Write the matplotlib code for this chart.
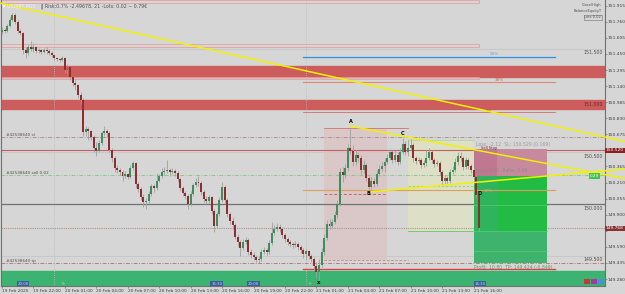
import numpy as np
import matplotlib.pyplot as plt
from matplotlib.patches import Rectangle

# USDJPY M15 candles, 19 Feb 19:00 -> 21 Feb 16:30
first_open = 151.66
closes = [151.68, 151.67, 151.72, 151.78, 151.83, 151.76, 151.67, 151.65, 151.49, 151.46,
          151.52, 151.50, 151.52, 151.48, 151.49, 151.47, 151.49, 151.48, 151.46, 151.44,
          151.41, 151.40, 151.39, 151.41, 151.30, 151.32, 151.23, 151.17, 151.15, 151.05,
          151.01, 150.70, 150.73, 150.71, 150.65, 150.54, 150.51, 150.59, 150.69, 150.71,
          150.69, 150.52, 150.45, 150.35, 150.33, 150.31, 150.27, 150.29, 150.26, 150.35,
          150.40, 150.20, 150.15, 150.07, 150.02, 150.03, 150.10, 150.18, 150.16, 150.23,
          150.27, 150.31, 150.32, 150.33, 150.31, 150.32, 150.30, 150.24, 150.16, 150.11,
          150.08, 150.00, 150.10, 150.19, 150.22, 150.21, 150.12, 150.05, 150.03, 150.07,
          149.94, 149.79, 149.91, 150.04, 150.17, 150.04, 149.91, 149.84, 149.80, 149.69,
          149.64, 149.58, 149.64, 149.66, 149.54, 149.51, 149.49, 149.46, 149.47, 149.54,
          149.56, 149.54, 149.63, 149.72, 149.76, 149.78, 149.76, 149.70, 149.67, 149.64,
          149.62, 149.61, 149.62, 149.59, 149.56, 149.52, 149.55, 149.50, 149.47, 149.41,
          149.35, 149.42, 149.54, 149.68, 149.81, 149.79, 149.83, 149.90, 150.00, 150.31,
          150.28, 150.35, 150.54, 150.51, 150.41, 150.48, 150.45, 150.33, 150.38, 150.25,
          150.17, 150.23, 150.20, 150.29, 150.34, 150.37, 150.41, 150.45, 150.50, 150.43,
          150.48, 150.41, 150.50, 150.58, 150.50, 150.54, 150.57, 150.45, 150.42, 150.43,
          150.38, 150.40, 150.45, 150.50, 150.43, 150.39, 150.40, 150.31, 150.23, 150.25,
          150.23, 150.31, 150.33, 150.41, 150.47, 150.45, 150.36, 150.43, 150.37, 150.33,
          150.26, 150.09, 149.77]
highs = [151.71, 151.70, 151.74, 151.81, 151.84, 151.84, 151.78, 151.69, 151.66, 151.52,
         151.55, 151.57, 151.56, 151.53, 151.51, 151.50, 151.51, 151.52, 151.50, 151.48,
         151.42, 151.42, 151.41, 151.43, 151.42, 151.35, 151.33, 151.24, 151.21, 151.16,
         151.08, 151.03, 150.76, 150.75, 150.72, 150.67, 150.60, 150.62, 150.71, 150.76,
         150.73, 150.71, 150.54, 150.47, 150.38, 150.35, 150.33, 150.32, 150.30, 150.38,
         150.42, 150.41, 150.22, 150.17, 150.10, 150.06, 150.13, 150.20, 150.20, 150.30,
         150.29, 150.35, 150.36, 150.43, 150.35, 150.35, 150.34, 150.32, 150.25, 150.18,
         150.13, 150.10, 150.13, 150.21, 150.25, 150.27, 150.23, 150.14, 150.08, 150.09,
         150.08, 149.96, 149.93, 150.07, 150.22, 150.19, 150.06, 149.93, 149.88, 149.82,
         149.71, 149.66, 149.67, 149.69, 149.68, 149.57, 149.54, 149.51, 149.50, 149.57,
         149.59, 149.58, 149.66, 149.83, 149.80, 149.82, 149.81, 149.78, 149.72, 149.69,
         149.66, 149.64, 149.65, 149.64, 149.61, 149.58, 149.57, 149.56, 149.52, 149.49,
         149.44, 149.47, 149.58, 149.71, 149.85, 149.86, 149.86, 149.94, 150.04, 150.35,
         150.36, 150.39, 150.58, 150.74, 150.57, 150.52, 150.50, 150.48, 150.43, 150.40,
         150.27, 150.26, 150.25, 150.33, 150.38, 150.41, 150.45, 150.49, 150.53, 150.52,
         150.52, 150.50, 150.54, 150.64, 150.61, 150.62, 150.63, 150.59, 150.47, 150.46,
         150.45, 150.43, 150.52, 150.54, 150.52, 150.45, 150.43, 150.42, 150.33, 150.28,
         150.27, 150.34, 150.37, 150.45, 150.50, 150.50, 150.47, 150.46, 150.45, 150.39,
         150.35, 150.28, 150.11]
lows = [151.64, 151.65, 151.66, 151.71, 151.77, 151.74, 151.65, 151.63, 151.45, 151.41,
        151.44, 151.48, 151.47, 151.46, 151.46, 151.45, 151.46, 151.45, 151.44, 151.42,
        151.39, 151.38, 151.37, 151.38, 151.27, 151.26, 151.20, 151.14, 151.10, 151.03,
        150.97, 150.66, 150.66, 150.62, 150.62, 150.50, 150.47, 150.50, 150.57, 150.66,
        150.65, 150.50, 150.41, 150.31, 150.30, 150.28, 150.23, 150.25, 150.24, 150.25,
        150.33, 150.16, 150.12, 150.04, 149.97, 149.96, 150.01, 150.08, 150.12, 150.14,
        150.22, 150.25, 150.28, 150.30, 150.27, 150.29, 150.27, 150.22, 150.13, 150.08,
        150.05, 149.96, 149.98, 150.08, 150.17, 150.18, 150.09, 150.02, 150.00, 150.01,
        149.91, 149.73, 149.77, 149.89, 150.02, 150.01, 149.88, 149.81, 149.76, 149.67,
        149.60, 149.50, 149.56, 149.62, 149.51, 149.48, 149.46, 149.44, 149.43, 149.45,
        149.52, 149.51, 149.52, 149.61, 149.70, 149.74, 149.73, 149.68, 149.64, 149.61,
        149.59, 149.58, 149.59, 149.56, 149.53, 149.48, 149.46, 149.47, 149.44, 149.37,
        149.29, 149.24, 149.40, 149.51, 149.66, 149.76, 149.77, 149.81, 149.87, 149.98,
        150.22, 150.25, 150.32, 150.49, 150.37, 150.38, 150.41, 150.29, 150.30, 150.23,
        150.13, 150.15, 150.17, 150.18, 150.27, 150.32, 150.31, 150.39, 150.43, 150.40,
        150.41, 150.38, 150.39, 150.49, 150.48, 150.47, 150.52, 150.41, 150.39, 150.40,
        150.35, 150.36, 150.37, 150.43, 150.40, 150.36, 150.37, 150.28, 150.19, 150.20,
        150.20, 150.21, 150.29, 150.31, 150.38, 150.42, 150.33, 150.34, 150.34, 150.30,
        150.23, 150.06, 149.74]
opens = [first_open] + closes[:-1]

time_labels = ["19 Feb 2025", "19 Feb 22:00", "20 Feb 01:00", "20 Feb 04:00",
               "20 Feb 07:00", "20 Feb 10:00", "20 Feb 13:00", "20 Feb 16:00",
               "20 Feb 19:00", "20 Feb 22:00", "21 Feb 01:00", "21 Feb 04:00",
               "21 Feb 07:00", "21 Feb 10:00", "21 Feb 13:00", "21 Feb 16:00"]
price_ticks = [149.280, 149.435, 149.590, 149.745, 149.900, 150.055, 150.210, 150.365,
               150.520, 150.675, 150.830, 150.985, 151.140, 151.295, 151.450, 151.605,
               151.760, 151.915]
day_breaks = [20, 116]

# trade / analysis levels
sl_price = 150.529
entry_price = 150.27
tp_price = 149.43
sl_dash = 150.65
sell_line = 150.28
bid_price = 149.77
red_zones = [(151.23, 151.33), (150.92, 151.01)]
demand_zone = (149.213, 149.36)

BG = '#d6d6d6'
BULL = '#3f8f5e'
BEAR = '#8e2f2f'
WICK = '#a0a0a0'
TXT = '#505050'

fig = plt.figure(figsize=(6.25, 2.94), dpi=100, facecolor=BG)
ax = fig.add_axes([1 / 625, 8 / 294, 603.5 / 625, 286 / 294])
ax.set_facecolor(BG)
x0, x1 = -0.38, 229.96
y0, y1 = 149.213, 151.97
ax.set_xlim(x0, x1)
ax.set_ylim(y0, y1)

# zones
for lo, hi in red_zones:
    ax.axhspan(lo, hi, color='#cd5c5c', zorder=1)
ax.axhspan(demand_zone[0], demand_zone[1], color='#3cb371', zorder=1)

# thin pink rectangles (old zones)
for lo, hi in [(151.94, 151.97), (151.52, 151.55), (151.21, 151.23)]:
    ax.add_patch(Rectangle((x0, lo), 182 - x0, hi - lo, fill=False,
                           ec='#e6a0a0', lw=0.6, zorder=1.5))

# round number levels
for lv in [151.5, 150.5, 149.5]:
    ax.axhline(lv, color='#c8c8c8', lw=0.8, zorder=1.2)
ax.axhline(150.0, color='#727272', lw=0.9, zorder=1.6)
for lv, s in [(151.5, '151.500'), (151.0, '151.000'), (150.5, '150.500'),
              (150.0, '150.000'), (149.5, '149.500')]:
    ax.text(x1 - 0.5, lv - 0.012, s, ha='right', va='top', fontsize=3.4,
            color='#7a2020' if s == '151.000' else TXT, zorder=8)

# period separators
for d in day_breaks:
    ax.axvline(d, color='#bcbcbc', lw=0.6, ls=(0, (1, 1.5)), zorder=1.1)

# fib lines
ax.plot([115, 211], [151.425, 151.425], color='#2f8fe0', lw=0.9, zorder=2)
ax.plot([115, 211], [151.18, 151.18], color='#e08a70', lw=0.8, zorder=2)
ax.plot([115, 211], [150.89, 150.89], color='#d07070', lw=0.6, zorder=2)
ax.plot([115, 211], [150.14, 150.14], color='#d9a060', lw=0.8, zorder=2)
ax.text(186, 151.435, '50%', fontsize=3, color='#5aa0d8', zorder=8)
ax.text(188, 151.19, '38%', fontsize=3, color='#d07060', zorder=8)
ax.text(185, 150.90, '61', fontsize=3, color='#c06060', zorder=8)
ax.text(184, 150.12, '50%', fontsize=3, color='#d9a060', zorder=8)

# trade lines
ax.axhline(sl_dash, color='#b09090', lw=0.7, ls=(0, (4, 1.5, 1, 1.5)), zorder=1.7)
ax.axhline(sl_price - 0.005, color='#c46060', lw=0.8, zorder=1.7)
ax.axhline(sell_line, color='#8cc88c', lw=0.7, ls=(0, (4, 1.5, 1, 1.5)), zorder=1.7)
ax.axhline(bid_price, color='#b09090', lw=0.8, ls=(0, (1, 1)), zorder=1.7)
ax.axhline(tp_price, color='#b08080', lw=0.7, ls=(0, (4, 1.5, 1, 1.5)), zorder=1.7)
ax.plot([115, 211], [149.38, 149.38], color='#e04040', lw=1.0, zorder=2)
ax.text(1.5, sl_dash + 0.01, '#42538640 sl', fontsize=3, color=TXT, zorder=8)
ax.text(1.5, sell_line + 0.01, '#42538640 sell 0.02', fontsize=3, color=TXT, zorder=8)
ax.text(1.5, tp_price + 0.01, '#42538640 tp', fontsize=3, color=TXT, zorder=8)

# pattern boxes
ax.add_patch(Rectangle((123, 149.46), 24, 150.74 - 149.46, color='#dcc4c4', alpha=0.8, zorder=1.3, lw=0))
ax.plot([123, 155], [150.74, 150.74], color='#d08080', lw=0.7, zorder=2)
ax.plot([123, 147], [150.10, 150.10], color='#d06060', lw=0.7, ls=(0, (3, 2)), zorder=2)
ax.plot([123, 155], [149.46, 149.46], color='#d08080', lw=0.6, ls=(0, (3, 2)), zorder=2)
ax.add_patch(Rectangle((155, 149.74), 25, 150.62 - 149.74, color='#dde0c6', zorder=1.3, lw=0))
ax.plot([155, 180], [150.62, 150.62], color='#b8d8a8', lw=0.7, zorder=2)
ax.plot([155, 180], [149.74, 149.74], color='#78c878', lw=0.7, zorder=2)
ax.plot([155, 180], [150.18, 150.18], color='#90c890', lw=0.6, ls=(0, (3, 2)), zorder=2)

# position tool boxes
ax.add_patch(Rectangle((180, entry_price), 28, sl_price - entry_price, color='#c68a9c', zorder=1.8, lw=0))
ax.add_patch(Rectangle((180, entry_price), 9, sl_price - entry_price, color='#c07890', zorder=1.85, lw=0))
ax.add_patch(Rectangle((180, tp_price), 28, entry_price - tp_price, color='#3db36e', zorder=1.8, lw=0))
ax.add_patch(Rectangle((189, 149.74), 19, entry_price - 149.74, color='#22bb44', zorder=1.85, lw=0))
ax.add_patch(Rectangle((180, 149.74), 9, entry_price - 149.74, color='#2fb45e', zorder=1.85, lw=0))
for lv in [149.99, 149.74, 149.55]:
    ax.plot([180, 208], [lv, lv], color='#5ccc70', lw=0.5, zorder=1.9)
ax.text(181, 150.565, 'Loss: -2.12  SL: 150.529 (0.169)', fontsize=3.3, color='#9a9a9a', zorder=8)
ax.text(183, 150.535, 'Sell Stop', fontsize=2.6, color='#7a2a2a', zorder=8)
ax.text(181, 150.31, 'Loss: 0.02  Ratio: 3.46', fontsize=3.3, color='#8a8a8a', zorder=8)
ax.text(180, 149.375, 'Profit: 10.80  TP: 149.424 (-0.849)', fontsize=3.3, color='#5a9a6a', zorder=8)

# candles
idx = np.arange(len(closes))
o = np.array(opens)
c = np.array(closes)
up = c >= o
ax.vlines(idx, lows, highs, color=WICK, lw=0.6, zorder=3)
body = np.maximum(np.abs(c - o), 0.004)
ax.bar(idx[up], body[up], bottom=o[up], width=0.75, color=BULL, zorder=4, lw=0)
ax.bar(idx[~up], body[~up], bottom=c[~up], width=0.75, color=BEAR, zorder=4, lw=0)

# trend lines (run over the price scale too)
ax.plot([-0.76, 237.8], [151.94, 150.606], color='#f2f200', lw=1.1, zorder=5, clip_on=False)
ax.plot([132.8, 237.8], [150.755, 150.25], color='#f2f200', lw=1.1, zorder=5, clip_on=False)
ax.plot([139.7, 237.8], [150.119, 150.341], color='#f2f200', lw=1.1, zorder=5, clip_on=False)

# pattern points
for lab, xi, pv in [('A', 133, 150.78), ('B', 140, 150.09), ('C', 153, 150.67), ('D', 182.3, 150.09)]:
    ax.text(xi, pv, lab, fontsize=3.6, fontweight='bold', color='black', ha='center', zorder=9)
ax.text(121, 149.23, 'x', fontsize=4, fontweight='bold', color='black', ha='center', zorder=9)

# header / info texts
fig.text(0.004, 0.978, '▼ USDJPY,M15', fontsize=3.4, color='#f0f0f0', va='center')
fig.text(0.066, 0.978, '‖ Risk:0.7% -2.49678, 21 -Lots: 0.02 ~ 0.79€', fontsize=3.4, color=TXT, va='center')
fig.text(0.962, 0.982, 'Close/High', fontsize=2.6, color=TXT, ha='right', va='center')
fig.text(0.962, 0.962, 'BalanceEquityT', fontsize=2.6, color=TXT, ha='right', va='center')
fig.text(0.962, 0.942, 'Lots 0.02', fontsize=2.6, color=TXT, ha='right', va='center',
         bbox=dict(boxstyle='square,pad=0.15', fc='none', ec='#707070', lw=0.4))

# axes styling
ax.spines['top'].set_visible(False)
for s in ['left', 'right', 'bottom']:
    ax.spines[s].set_color('#707070')
    ax.spines[s].set_linewidth(0.8)
ax.yaxis.tick_right()
ax.set_yticks(price_ticks)
ax.set_yticklabels(['' if v in (150.520, 149.745) else '%.3f' % v for v in price_ticks])
ax.set_xticks(np.arange(len(time_labels)) * 12)
ax.set_xticklabels(time_labels, ha='left')
ax.tick_params(axis='y', labelsize=3.2, colors='#707070', labelcolor='#404040',
               length=1.5, width=0.5, pad=0.5)
ax.tick_params(axis='x', labelsize=3.1, colors='#707070', labelcolor='#404040',
               length=1.5, width=0.5, pad=0.5)

# price scale tags
for pv, s, col in [(150.52, '150.520', '#8a2020'), (bid_price, '149.768', '#8a3030')]:
    fig.text(606 / 625, 1 - (151.97 - pv) / 0.00964 / 294, s, fontsize=3.2, color='white',
             va='center', bbox=dict(boxstyle='square,pad=0.15', fc=col, ec='none'))
ax.text(226, 150.275, '0.29', fontsize=3, color='white', ha='center', va='center', zorder=9,
        bbox=dict(boxstyle='square,pad=0.2', fc='#3cc850', ec='none'))
for xi, s in [(8, '20:00'), (82, '15:30'), (96, '20:00'), (182.5, '16:30')]:
    ax.text(xi, 149.235, s, fontsize=2.8, color='#c8d8f0', ha='center', va='center', zorder=9,
            bbox=dict(boxstyle='square,pad=0.2', fc='#3a5f9a', ec='none'))
for k, col in enumerate(['#c03a3a', '#a03aa0', '#4a90d8']):
    ax.add_patch(Rectangle((222 + 2.7 * k, 149.23), 2.5, 0.055, color=col, zorder=9, lw=0))
ax.text(22, 149.235, 'Th', fontsize=3.2, color='#8fd0a8', va='center', zorder=8)
ax.text(117, 149.235, 'Fr', fontsize=3.2, color='#8fd0a8', va='center', zorder=8)

fig.savefig('out.png', dpi=100, facecolor=BG)
